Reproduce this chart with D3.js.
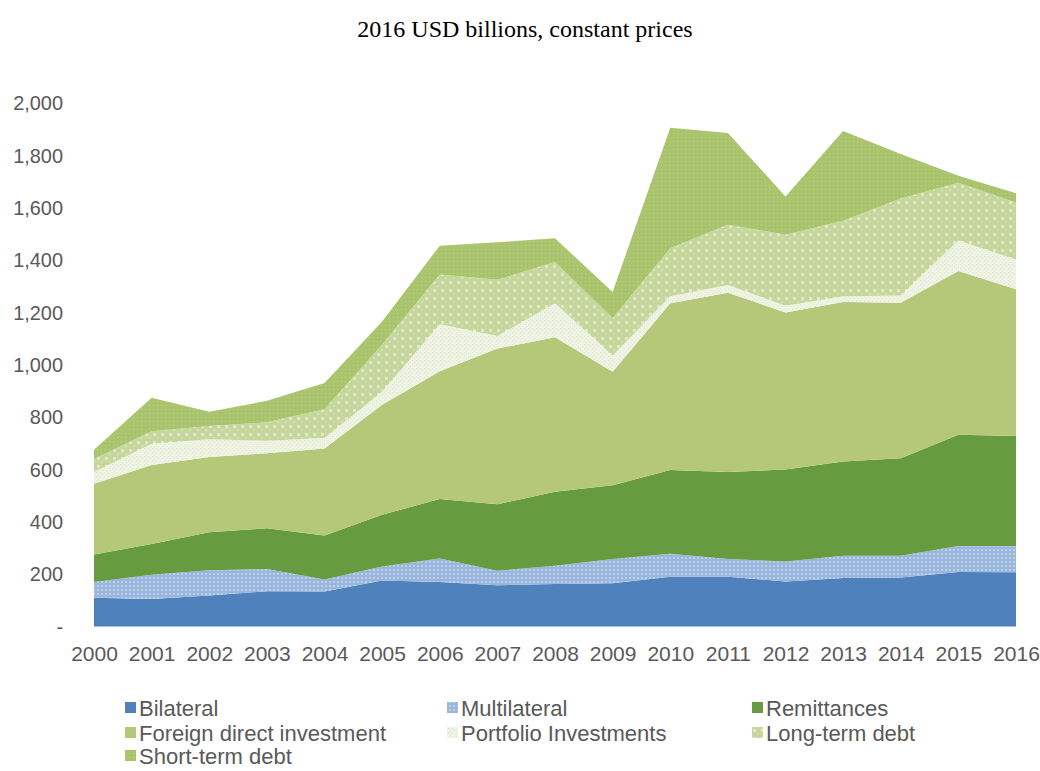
<!DOCTYPE html>
<html>
<head>
<meta charset="utf-8">
<script src="https://cdn.jsdelivr.net/npm/d3@7"></script>
<style>
  html, body { margin: 0; padding: 0; background: #ffffff; }
  svg { display: block; }
</style>
</head>
<body>
<svg id="chart" width="1040" height="771"></svg>
<script>
const years = ["2000","2001","2002","2003","2004","2005","2006","2007","2008","2009","2010","2011","2012","2013","2014","2015","2016"];
const bilateral     = [110,105,118,135,134,176,170,158,162,165,190,190,172,185,187,208,207];
const multilateral  = [60,93,97,85,46,53,90,55,70,93,88,68,76,85,83,100,101];
const remittances   = [105,117,145,155,168,198,227,254,283,282,320,332,352,360,373,425,420];
const fdi           = [270,302,288,287,332,420,488,595,590,433,637,685,600,610,594,625,560];
const portfolio     = [45,81,67,48,40,50,180,48,130,62,27,30,25,22,28,117,114];
const longTermDebt  = [50,48,51,70,110,179,190,215,158,143,183,230,272,288,370,220,218];
const shortTermDebt = [35,128,54,82,100,89,110,143,90,100,460,350,146,343,170,27,35];
const seriesNames = ["Bilateral","Multilateral","Remittances","Foreign direct investment","Portfolio Investments","Long-term debt","Short-term debt"];
const yTicks = [0,200,400,600,800,1000,1200,1400,1600,1800,2000];
const title = "2016 USD billions, constant prices";

const seriesValues = [bilateral, multilateral, remittances, fdi, portfolio, longTermDebt, shortTermDebt];
const keys = ["bil","mul","rem","fdi","port","lt","st"];
const rows = years.map((y, i) => {
  const r = { year: y };
  keys.forEach((k, j) => r[k] = seriesValues[j][i]);
  return r;
});

const svg = d3.select("#chart");
const defs = svg.append("defs");

function pat(id, w, h, base, draw) {
  const p = defs.append("pattern").attr("id", id).attr("patternUnits", "userSpaceOnUse")
    .attr("width", w).attr("height", h);
  p.append("rect").attr("width", w).attr("height", h).attr("fill", base);
  draw(p);
}
pat("p-mul", 4, 4, "#9ab6dd", p => {
  p.append("rect").attr("x", 1).attr("y", 1).attr("width", 2).attr("height", 2).attr("fill", "#bccfeb");
});
pat("p-port", 4, 4, "#eff3e4", p => {
  p.append("rect").attr("x", 0).attr("y", 0).attr("width", 1).attr("height", 1).attr("fill", "#e0e7cd");
  p.append("rect").attr("x", 2).attr("y", 2).attr("width", 1).attr("height", 1).attr("fill", "#e0e7cd");
});
pat("p-lt", 8, 8, "#c6d79d", p => {
  p.append("rect").attr("x", 1).attr("y", 1).attr("width", 3).attr("height", 3).attr("fill", "#dfe9c6");
  p.append("rect").attr("x", 5).attr("y", 5).attr("width", 2).attr("height", 2).attr("fill", "#d4e1b2");
});
pat("p-st", 4, 4, "#a9c46d", p => {
  p.append("rect").attr("x", 1).attr("y", 1).attr("width", 1).attr("height", 1).attr("fill", "#bcd28b");
});

const fills = ["#4f81bd", "url(#p-mul)", "#679b3f", "#b5c87a", "url(#p-port)", "url(#p-lt)", "url(#p-st)"];

const x = d3.scalePoint().domain(years).range([94, 1016]);
const y = d3.scaleLinear().domain([0, 2000]).range([626.5, 103]);

const layers = d3.stack().keys(keys)(rows);

const area = d3.area()
  .x(d => x(d.data.year))
  .y0(d => y(d[0]))
  .y1(d => y(d[1]));

svg.append("g").selectAll("path").data(layers).join("path")
  .attr("d", area)
  .attr("fill", (d, i) => fills[i]);

// title
svg.append("text").attr("x", 525).attr("y", 37).attr("text-anchor", "middle")
  .attr("font-family", "'Liberation Serif', 'Times New Roman', serif").attr("font-size", 24)
  .attr("fill", "#000").text(title);

const sans = "'Liberation Sans', Arial, sans-serif";

// y axis
const yAxis = d3.axisLeft(y).tickValues(yTicks).tickSize(0).tickPadding(0)
  .tickFormat(v => v === 0 ? "-" : d3.format(",")(v));
const gy = svg.append("g").attr("transform", "translate(64,0)").call(yAxis);
gy.select(".domain").remove();
gy.selectAll("text").attr("font-family", sans)
  .attr("font-size", 21).attr("fill", "#595959")
  .attr("transform", "scale(0.95,1)").attr("x", -1);

// x axis
const xAxis = d3.axisBottom(x).tickSize(0).tickPadding(0);
const gx = svg.append("g").attr("transform", "translate(0,646)").call(xAxis);
gx.select(".domain").remove();
gx.selectAll("text").attr("font-family", sans)
  .attr("font-size", 21).attr("fill", "#595959").attr("dy", "0.71em");

// legend
const colX = [125, 447, 752];
const rowY = [708, 733, 756];
const lg = svg.append("g");
seriesNames.forEach((name, i) => {
  const cx = colX[i % 3], cy = rowY[Math.floor(i / 3)];
  lg.append("rect").attr("x", cx).attr("y", cy - 6).attr("width", 11).attr("height", 11)
    .attr("fill", fills[i]);
  lg.append("text").attr("x", cx + 14).attr("y", cy).attr("dy", "0.35em")
    .attr("font-family", sans).attr("font-size", 22)
    .attr("fill", "#595959").text(name);
});
</script>
</body>
</html>
